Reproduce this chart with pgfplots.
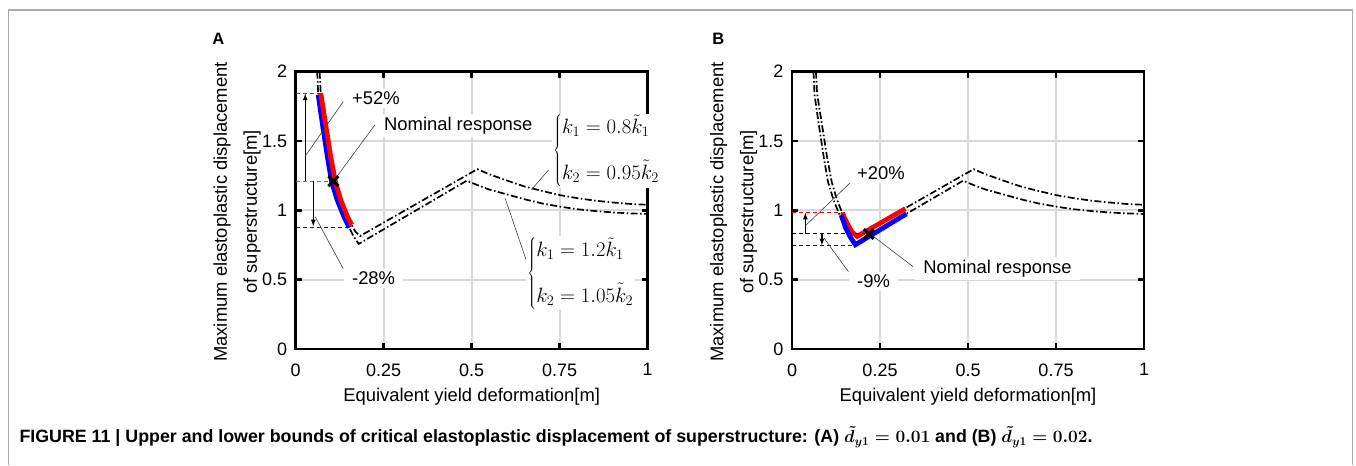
\documentclass[border=0pt]{standalone}
\usepackage{pgfplots}
\pgfplotsset{compat=1.18}
\usepackage{pgfplotstable}
\usepackage{fontspec}
\setmainfont{Liberation Sans}
\usetikzlibrary{arrows.meta}

\pgfplotstableread{
x y
0.068 2.0
0.0711 1.845
0.086 1.604
0.0994 1.387
0.1126 1.207
0.128 1.075
0.147 0.955
0.159 0.895
0.170 0.845
0.183 0.815
0.516 1.297
0.55 1.26
0.6 1.215
0.65 1.172
0.7 1.14
0.75 1.11
0.8 1.088
0.85 1.07
0.9 1.057
0.95 1.046
1.0 1.04
}\blackup

\pgfplotstableread{
x y
0.061 2.0
0.064 1.833
0.077 1.604
0.090 1.387
0.102 1.207
0.118 1.075
0.137 0.955
0.152 0.875
0.165 0.81
0.179 0.758
0.486 1.214
0.52 1.178
0.55 1.15
0.6 1.115
0.65 1.08
0.7 1.05
0.75 1.027
0.8 1.008
0.85 0.995
0.9 0.985
0.95 0.978
1.0 0.974
}\blacklo

\pgfplotstableread{
x y
0.0711 1.845
0.086 1.604
0.0994 1.387
0.1126 1.207
0.128 1.075
0.147 0.955
0.159 0.895
}\redA

\pgfplotstableread{
x y
0.064 1.833
0.077 1.604
0.090 1.387
0.102 1.207
0.118 1.075
0.137 0.955
0.152 0.875
}\blueA

\pgfplotstableread{
x y
0.144 0.985
0.147 0.955
0.159 0.895
0.170 0.845
0.185 0.812
0.322 1.012
}\redB

\pgfplotstableread{
x y
0.140 0.966
0.152 0.875
0.165 0.81
0.180 0.752
0.325 0.975
}\blueB

\pgfplotsset{
  myax/.style={
    scale only axis, width=352pt, height=277.3pt, anchor=south west,
    xmin=0, xmax=1, ymin=0, ymax=2,
    xtick={0,0.25,0.5,0.75,1}, ytick={0,0.5,1,1.5,2},
    xticklabels={0,0.25,0.5,0.75,1}, yticklabels={0,0.5,1,1.5,2},
    grid=major, major grid style={line width=2pt, color=black!15},
    axis line style={line width=2.8pt, black},
    tick style={line width=2.6pt, black}, major tick length=6pt,
    tick align=inside,
    ticklabel style={font=\fontsize{18}{20}\selectfont},
    xticklabel style={yshift=-11pt},
    yticklabel style={xshift=-5pt},
    /pgf/number format/assume math mode=true,
    clip=false,
  },
}
\tikzset{
  bdd/.style={black, line width=1.7pt, dash pattern=on 7pt off 2.5pt on 1.5pt off 2.5pt},
  thk/.style={line width=4.8pt},
  refd/.style={line width=1.1pt, dash pattern=on 4pt off 3pt},
  lead/.style={black!75, line width=0.6pt},
  arr/.style={-{Latex[length=7pt,width=5pt]}, line width=1.2pt, black},
  lbl/.style={fill=white, inner xsep=8pt, inner ysep=3pt, font=\fontsize{18.4}{22}\selectfont},
  eqn/.style={fill=white, inner sep=1pt, anchor=west, font=\fontsize{20.5}{24.5}\selectfont},
}

\begin{document}
\begin{tikzpicture}[x=1pt,y=1pt]
\path (0,0) rectangle (1356,465);
\draw[color=black!33, line width=1.5pt] (8.5,0) -- (8.5,455) -- (1352.5,455) -- (1352.5,0);

% Panel A
\node[font=\bfseries\fontsize{16.5}{18}\selectfont] at (218.3,426) {A};
\node[rotate=90, align=center, font=\fontsize{18.4}{30}\selectfont] at (237,253) {Maximum elastoplastic displacement\\of superstructure[m]};
\node[font=\fontsize{18.4}{22}\selectfont] at (471.7,68) {Equivalent yield deformation[m]};

\begin{axis}[myax, at={(295.7pt,116pt)}]
\addplot[bdd] table {\blackup};
\addplot[bdd] table {\blacklo};
\addplot[blue, thk] table {\blueA};
\addplot[red, thk] table {\redA};
\addplot[red, refd] coordinates {(0,1.845) (0.071,1.845)};
\addplot[black!55, refd] coordinates {(0,1.21) (0.105,1.21)};
\addplot[blue, refd] coordinates {(0,0.875) (0.152,0.875)};
\addplot[only marks, mark=x, mark size=7pt, mark options={line width=3pt, black}] coordinates {(0.107,1.21)};
\draw[arr] (axis cs:0.027,1.21) -- (axis cs:0.027,1.845);
\draw[arr] (axis cs:0.05,1.21) -- (axis cs:0.05,0.882);
\draw[lead] (axis cs:0.026,1.387) -- (axis cs:0.135,1.784);
\draw[lead] (axis cs:0.107,1.21) -- (axis cs:0.225,1.616);
\draw[lead] (axis cs:0.055,0.955) -- (axis cs:0.135,0.58);
\draw[lead] (axis cs:0.67,1.15) -- (axis cs:0.718,1.29);
\draw[lead] (axis cs:0.595,1.087) -- (axis cs:0.654,0.647);
\node[lbl, anchor=west] at (axis cs:0.137,1.81) {+52\%};
\node[lbl, anchor=west] at (axis cs:0.228,1.61) {Nominal response};
\node[lbl, anchor=west] at (axis cs:0.137,0.51) {-28\%};
\node[eqn] at (axis cs:0.728,1.43)
  {$\left\{\begin{array}{@{}l@{}} k_1 = 0.8\tilde{k}_1\\[19pt] k_2 = 0.95\tilde{k}_2\end{array}\right.$};
\node[eqn] at (axis cs:0.655,0.545)
  {$\left\{\begin{array}{@{}l@{}} k_1 = 1.2\tilde{k}_1\\[19pt] k_2 = 1.05\tilde{k}_2\end{array}\right.$};
\end{axis}

% Panel B
\node[font=\bfseries\fontsize{16.5}{18}\selectfont] at (718.3,426) {B};
\node[rotate=90, align=center, font=\fontsize{18.4}{30}\selectfont] at (733.5,253) {Maximum elastoplastic displacement\\of superstructure[m]};
\node[font=\fontsize{18.4}{22}\selectfont] at (968,68) {Equivalent yield deformation[m]};

\begin{axis}[myax, at={(792pt,116pt)}]
\addplot[bdd] table {\blackup};
\addplot[bdd] table {\blacklo};
\addplot[red, thk] table {\redB};
\addplot[blue, thk] table {\blueB};
\addplot[red, refd] coordinates {(0,0.986) (0.14,0.986)};
\addplot[black, refd] coordinates {(0,0.83) (0.207,0.83)};
\addplot[blue, refd] coordinates {(0,0.745) (0.182,0.745)};
\addplot[only marks, mark=x, mark size=7pt, mark options={line width=3pt, black}] coordinates {(0.218,0.83)};
\draw[arr] (axis cs:0.038,0.83) -- (axis cs:0.038,0.986);
\draw[arr] (axis cs:0.085,0.83) -- (axis cs:0.085,0.745);
\draw[lead] (axis cs:0.0405,0.895) -- (axis cs:0.174,1.22);
\draw[lead] (axis cs:0.091,0.80) -- (axis cs:0.16,0.558);
\draw[lead] (axis cs:0.222,0.83) -- (axis cs:0.344,0.594);
\node[lbl, anchor=west] at (axis cs:0.162,1.268) {+20\%};
\node[lbl, anchor=west] at (axis cs:0.162,0.486) {-9\%};
\node[lbl, anchor=west] at (axis cs:0.35,0.582) {Nominal response};
\end{axis}

\node[anchor=west, font=\bfseries\boldmath\fontsize{17.8}{20}\selectfont] at (16,28) {FIGURE 11 | Upper and lower bounds of critical elastoplastic displacement of superstructure: (A) $\tilde{d}_{y1} = 0.01$ and (B) $\tilde{d}_{y1} = 0.02$.};
\end{tikzpicture}
\end{document}
